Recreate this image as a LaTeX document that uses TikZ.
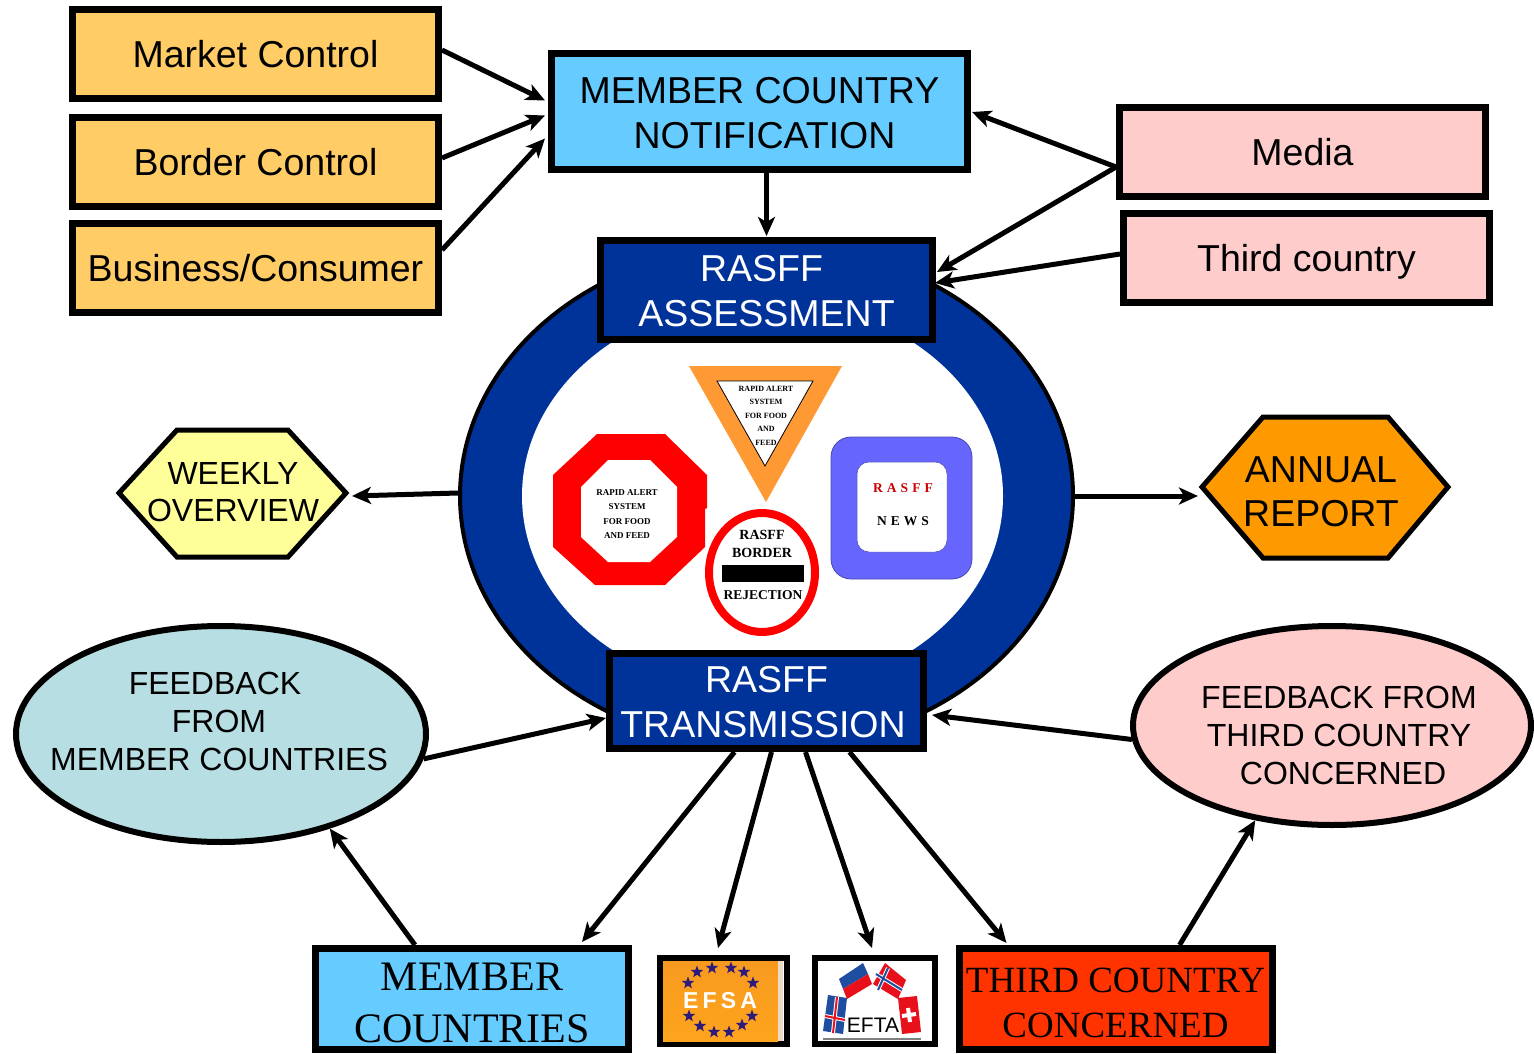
\documentclass[tikz,border=0pt]{standalone}
\usepackage{fontspec}
\setmainfont{Liberation Sans}
\newfontfamily\timesfont{Liberation Serif}
\newfontfamily\spacedserif[LetterSpace=30]{Liberation Serif}
\newfontfamily\spacedsans[LetterSpace=18]{Liberation Sans}
\usetikzlibrary{arrows.meta,shapes.geometric}
\definecolor{marketfill}{HTML}{FFCC66}
\definecolor{notiffill}{HTML}{66CCFF}
\definecolor{pinkfill}{HTML}{FFCCCC}
\definecolor{rasffblue}{HTML}{003399}
\definecolor{yellowfill}{HTML}{FFFF99}
\definecolor{annualfill}{HTML}{FF9900}
\definecolor{feedfill}{HTML}{B7DEE2}
\definecolor{thirdfill}{HTML}{FF3300}
\definecolor{yieldfill}{HTML}{FF9933}
\definecolor{newsfill}{HTML}{6666FF}
\definecolor{starfill}{HTML}{2E1A7A}
\definecolor{flagblue}{HTML}{1F4EA0}
\definecolor{flagred}{HTML}{E8101A}
\definecolor{efsatop}{HTML}{F79A20}
\definecolor{efsabottom}{HTML}{FFA41C}
\newcommand{\dropline}[1]{\rule{0pt}{#1pt}}
\tikzset{
  sizedtext/.style n args={2}{font=\fontsize{#1}{#2}\selectfont,align=center},
  sourcebox/.style={draw,line width=7pt,fill=marketfill,minimum width=366pt,minimum height=89pt,inner sep=0pt,text height=27pt,text depth=0pt,font=\fontsize{37.5}{45}\selectfont},
  mediabox/.style={sourcebox,fill=pinkfill},
  rasffbox/.style={draw,line width=7pt,fill=rasffblue,text=white,inner sep=0pt,sizedtext={37.5}{45}},
  feedblob/.style={draw,ellipse,line width=6pt,inner sep=0pt},
  feedtext/.style={inner sep=0pt,sizedtext={32}{38}},
  hexpath/.style={draw,line width=5pt,line join=miter},
  targetbox/.style={draw,line width=7pt,inner sep=0pt,minimum width=313pt,minimum height=101pt},
  logobox/.style={draw,line width=6pt,inner sep=0pt},
  signtext/.style n args={2}{font=\timesfont\bfseries\fontsize{#1}{#2}\selectfont,align=center,inner sep=0pt},
  link/.style={-{Stealth[length=19pt,width=17pt,inset=5pt]},line width=5pt}
}
\begin{document}
\begin{tikzpicture}[x=1pt,y=-1pt]
  \useasboundingbox (0,0) rectangle (1534,1054);
  \node[draw,ellipse,line width=4pt,fill=rasffblue,minimum width=613pt,minimum height=504pt,inner sep=0pt] (ring) at (766.5,496) {};
  \node[ellipse,fill=white,minimum width=481pt,minimum height=394pt,inner sep=0pt] (hole) at (762.5,496) {};
  \fill[red] (597,434) -- (665,434) -- (707,475) -- (707,508) -- (705,509) -- (705,547) -- (665,585) -- (595,585) -- (553,547) -- (553,475) -- cycle;
  \fill[white] (608,460) -- (650,460) -- (677,487) -- (677,537) -- (650,562) -- (608,562) -- (581,537) -- (581,487) -- cycle;
  \node[signtext={9}{14.6}] (octagon) at (627,514) {RAPID ALERT\\SYSTEM\\FOR FOOD\\AND FEED};
  \fill[yieldfill] (689,366) -- (842,366) -- (766,502) -- cycle;
  \draw[fill=white,line width=0.8pt] (717,381) -- (813,381) -- (765,466) -- cycle;
  \node[signtext={8}{13.5}] (triangle) at (766,415.5) {RAPID ALERT\\SYSTEM\\FOR FOOD\\AND\\FEED};
  \node[draw=red,ellipse,line width=8pt,fill=white,minimum width=106pt,minimum height=119pt,inner sep=0pt] (border) at (762,572.5) {};
  \fill (722,565) rectangle (804,582);
  \node[signtext={14}{18}] (borderup) at (762,544) {RASFF\\BORDER};
  \node[signtext={13.5}{18}] (borderdown) at (763,595) {REJECTION};
  \draw[newsfill!70!black,fill=newsfill,line width=0.8pt,rounded corners=20pt] (831,437) rectangle (972,579);
  \draw[newsfill!70!black,fill=white,line width=0.5pt,rounded corners=12pt] (857,462) rectangle (947,552);
  \node[font=\spacedserif\bfseries\fontsize{13.5}{15}\selectfont,text=red!80!black,inner sep=0pt] (newsup) at (903,488) {RASFF};
  \node[font=\spacedserif\bfseries\fontsize{13.5}{15}\selectfont,inner sep=0pt] (newsdown) at (903,521) {NEWS};
  \node[sourcebox] (market) at (255.5,54) {Market Control};
  \node[sourcebox] (control) at (255.5,162) {Border Control};
  \node[sourcebox] (business) at (255.5,268) {Business/Consumer};
  \node[rasffbox,fill=notiffill,text=black,minimum width=416pt,minimum height=116pt] (notif) at (759.5,111.5) {\dropline{30}MEMBER COUNTRY\\\hspace*{10pt}NOTIFICATION};
  \node[mediabox] (media) at (1302.5,152) {Media};
  \node[mediabox] (third) at (1306.5,258) {Third country};
  \node[rasffbox,minimum width=332pt,minimum height=99pt] (assess) at (766.5,290) {\dropline{29}RASFF\hspace*{10pt}\\ASSESSMENT};
  \node[rasffbox,minimum width=314pt,minimum height=95pt] (transmit) at (766.5,701) {\dropline{29}RASFF\\TRANSMISSION\hspace*{7pt}};
  \draw[hexpath,fill=yellowfill] (119,493) -- (177,430) -- (288,430) -- (346,493) -- (288,557) -- (177,557) -- cycle;
  \node[sizedtext={32}{37},inner sep=0pt] (weekly) at (233,492) {WEEKLY\\OVERVIEW};
  \coordinate (weeklytip) at (352,496);
  \draw[hexpath,fill=annualfill] (1202,487) -- (1263,417) -- (1388,417) -- (1448,487) -- (1388,558) -- (1263,558) -- cycle;
  \node[sizedtext={37.5}{44},inner sep=0pt] (annual) at (1321,492) {ANNUAL\\REPORT};
  \coordinate (annualtip) at (1198,496);
  \node[feedblob,fill=feedfill,minimum width=410pt,minimum height=216pt] (feedmember) at (221,734) {};
  \node[feedtext] (feedmembertext) at (219,721) {\hspace*{-8pt}FEEDBACK\\FROM\\MEMBER COUNTRIES};
  \node[feedblob,fill=pinkfill,minimum width=398pt,minimum height=199pt] (feedthird) at (1332,725.5) {};
  \node[feedtext] (feedthirdtext) at (1339,735) {FEEDBACK FROM\\THIRD COUNTRY\\\hspace*{8pt}CONCERNED};
  \node[targetbox,fill=notiffill,font=\timesfont\fontsize{42}{52}\selectfont,align=center] (members) at (472,999) {\dropline{35}MEMBER\\COUNTRIES};
  \node[targetbox,fill=thirdfill,font=\timesfont\fontsize{37}{45}\selectfont,align=center] (concerned) at (1115.5,999) {\dropline{32}THIRD COUNTRY\\CONCERNED};
  \node[logobox,fill=white,minimum width=127pt,minimum height=86pt] (efsa) at (723,1001) {};
  \fill[top color=efsatop,bottom color=efsabottom] (663,961) rectangle (778,1041);
  \fill[brown!30!white] (778,961) rectangle (783,1041);
  \foreach \starx/\stary in {712/968,731/968,744/972,753/983,752/1016,742/1025,729/1032,714/1032,700/1026,689/1016,688/983,697/972}
    \node[star,star points=5,star point ratio=2.4,fill=starfill,minimum size=13pt,inner sep=0pt] at (\starx,\stary) {};
  \node[font=\spacedsans\bfseries\fontsize{23}{25}\selectfont,text=white,inner sep=0pt] (efsaname) at (720,1001) {EFSA};
  \node[logobox,fill=white,minimum width=120pt,minimum height=86pt] (efta) at (875,1001) {};
  \fill[flagblue] (839,979) -- (863,963) -- (868,974) -- (843,989) -- cycle;
  \fill[flagred] (843,989) -- (868,974) -- (872,984) -- (847,999) -- cycle;
  \fill[flagred] (885,963) -- (906,980) -- (898,999) -- (873,984) -- cycle;
  \draw[white,line width=4pt] (888,968) -- (878,990) (876,974) -- (902,990);
  \draw[flagblue,line width=2pt] (888,968) -- (878,990) (876,974) -- (902,990);
  \fill[flagblue] (828,995) -- (847,998) -- (843,1034) -- (823,1031) -- cycle;
  \draw[white,line width=4pt] (837,997) -- (833,1033) (825,1016) -- (845,1020);
  \draw[flagred,line width=2pt] (837,997) -- (833,1033) (825,1016) -- (845,1020);
  \fill[flagred] (898,998) -- (917,996) -- (921,1032) -- (902,1034) -- cycle;
  \draw[white,line width=4pt] (908,1008) -- (910,1022) (902,1016) -- (916,1014);
  \node[font=\fontsize{21}{23}\selectfont,inner sep=0pt] (eftaname) at (873,1025) {EFTA};
  \draw[gray,line width=2pt] (823,1039) -- (921,1039);
  \begin{scope}[link]
    \draw ([shift={(0,-4)}]market.east) to ([shift={(-3,-11)}]notif.west);
    \draw ([shift={(0,-4)}]control.east) to ([shift={(-3,4)}]notif.west);
    \draw ([shift={(0,-18)}]business.east) to ([shift={(-3,27)}]notif.west);
    \draw ([shift={(0,15)}]media.west) to ([shift={(1,0.5)}]notif.east);
    \draw ([shift={(0,15)}]media.west) to ([shift={(1,-18)}]assess.east);
    \draw ([shift={(0,-4)}]third.west) to ([shift={(-1,-7)}]assess.east);
    \draw ([shift={(7,0)}]notif.south) to ([shift={(0,-1)}]assess.north);
    \draw ([shift={(0,-3)}]ring.west) to (weeklytip);
    \draw (ring.east) to (annualtip);
    \draw (feedmember.-7.6) to ([shift={(0,17)}]transmit.west);
    \draw (feedthird.184.7) to ([shift={(5,14)}]transmit.east);
    \draw ([shift={(-32,0)}]transmit.south) to ([shift={(110,-3)}]members.north);
    \draw ([shift={(5,0)}]transmit.south) to (718,948);
    \draw ([shift={(39,0)}]transmit.south) to (872,948);
    \draw ([shift={(83,0)}]transmit.south) to ([shift={(-109,-2)}]concerned.north);
    \draw ([shift={(-57,0)}]members.north) to (feedmember.-41.6);
    \draw ([shift={(64,0)}]concerned.north) to (feedthird.-129.2);
  \end{scope}
\end{tikzpicture}
\end{document}
